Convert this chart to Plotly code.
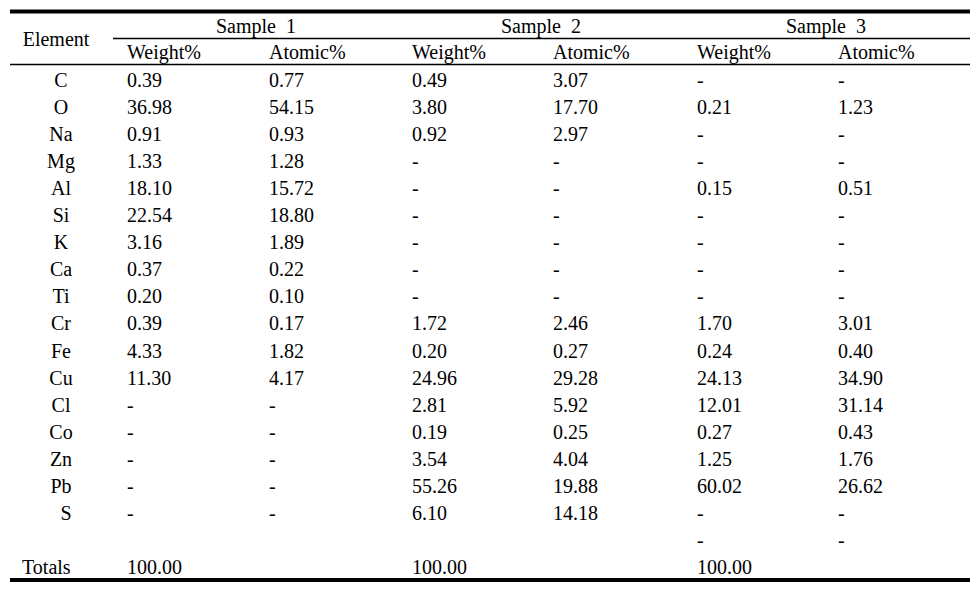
import plotly.graph_objects as go

# ---------------- data ----------------
elements = ["C", "O", "Na", "Mg", "Al", "Si", "K", "Ca", "Ti", "Cr", "Fe",
            "Cu", "Cl", "Co", "Zn", "Pb", "S", "", "Totals"]
sample_titles = ["Sample  1", "Sample  2", "Sample  3"]
sub_headers = ["Weight%", "Atomic%"]

s1_weight = ["0.39", "36.98", "0.91", "1.33", "18.10", "22.54", "3.16", "0.37", "0.20",
             "0.39", "4.33", "11.30", "-", "-", "-", "-", "-", "", "100.00"]
s1_atomic = ["0.77", "54.15", "0.93", "1.28", "15.72", "18.80", "1.89", "0.22", "0.10",
             "0.17", "1.82", "4.17", "-", "-", "-", "-", "-", "", ""]
s2_weight = ["0.49", "3.80", "0.92", "-", "-", "-", "-", "-", "-",
             "1.72", "0.20", "24.96", "2.81", "0.19", "3.54", "55.26", "6.10", "", "100.00"]
s2_atomic = ["3.07", "17.70", "2.97", "-", "-", "-", "-", "-", "-",
             "2.46", "0.27", "29.28", "5.92", "0.25", "4.04", "19.88", "14.18", "", ""]
s3_weight = ["-", "0.21", "-", "-", "0.15", "-", "-", "-", "-",
             "1.70", "0.24", "24.13", "12.01", "0.27", "1.25", "60.02", "-", "-", "100.00"]
s3_atomic = ["-", "1.23", "-", "-", "0.51", "-", "-", "-", "-",
             "3.01", "0.40", "34.90", "31.14", "0.43", "1.76", "26.62", "-", "-", ""]

# ---------------- layout constants ----------------
W, H = 979, 596
FONT = dict(family="Liberation Serif, Times New Roman, serif", size=20, color="black")
ROW0, ROWSTEP = 82, 27.05
COL_LEFT = [127, 269, 412, 553, 697, 838]
SAMPLE_CENTERS = [256, 541, 826]
ELEM_X = 61
Y_SAMPLE, Y_SUB, Y_ELEM = 28, 54, 41

columns = [s1_weight, s1_atomic, s2_weight, s2_atomic, s3_weight, s3_atomic]
row_y = [ROW0 + i * ROWSTEP for i in range(len(elements))]

fig = go.Figure()

def text_trace(xs, ys, texts, pos):
    fig.add_trace(go.Scatter(x=xs, y=ys, text=texts, mode="text",
                             textposition=pos, textfont=FONT,
                             hoverinfo="skip", showlegend=False))

# element column (centered), Totals left aligned
elem_rows = [i for i, e in enumerate(elements) if e and e != "Totals"]
text_trace([ELEM_X + (5 if elements[i] == "S" else 0) for i in elem_rows],
           [row_y[i] for i in elem_rows],
           [elements[i] for i in elem_rows], "middle center")
ti = elements.index("Totals")
text_trace([22], [row_y[ti]], ["Totals"], "middle right")
text_trace([56], [Y_ELEM], ["Element"], "middle center")

# header
text_trace(SAMPLE_CENTERS, [Y_SAMPLE] * 3, sample_titles, "middle center")
text_trace(COL_LEFT, [Y_SUB] * 6, sub_headers * 3, "middle right")

# values
for cx, col in zip(COL_LEFT, columns):
    idx = [i for i, v in enumerate(col) if v]
    text_trace([cx] * len(idx), [row_y[i] for i in idx], [col[i] for i in idx], "middle right")

# rules
fig.add_shape(type="line", x0=10, x1=970, y0=11.5, y1=11.5, line=dict(color="black", width=4))
fig.add_shape(type="line", x0=113, x1=970, y0=38.5, y1=38.5, line=dict(color="black", width=1.4))
fig.add_shape(type="line", x0=10, x1=970, y0=64.5, y1=64.5, line=dict(color="black", width=1.4))
fig.add_shape(type="line", x0=10, x1=970, y0=580, y1=580, line=dict(color="black", width=4))

fig.update_xaxes(range=[0, W], visible=False, fixedrange=True)
fig.update_yaxes(range=[H, 0], visible=False, fixedrange=True)
fig.update_layout(width=W, height=H, margin=dict(l=0, r=0, t=0, b=0),
                  plot_bgcolor="white", paper_bgcolor="white")

fig.write_html("out.html", config={"displayModeBar": False},
               post_script="document.body.style.margin='0';document.body.style.overflow='hidden';")
